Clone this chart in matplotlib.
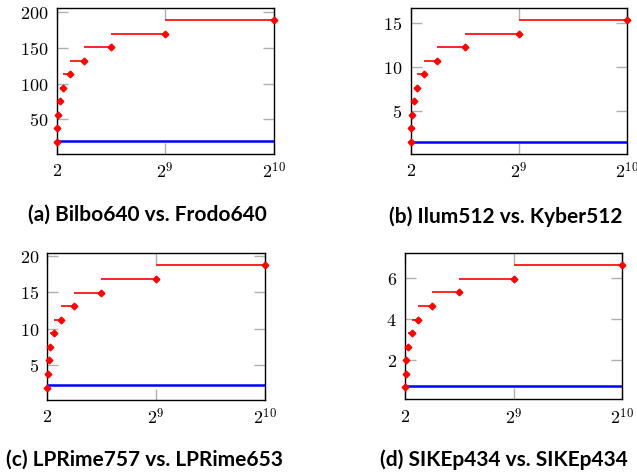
import matplotlib
import matplotlib.pyplot as plt

matplotlib.use("Agg")

plt.rcParams["mathtext.fontset"] = "cm"
plt.rcParams["axes.formatter.use_mathtext"] = True

# x values: 2^1 .. 2^10 (linear axis)
xs = [2, 4, 8, 16, 32, 64, 128, 256, 512, 1024]
x_ticks = [2, 512, 1024]
x_tick_labels = [r"$2$", r"$2^{9}$", r"$2^{10}$"]

titles = [
    "(a) Bilbo640 vs. Frodo640",
    "(b) Ilum512 vs. Kyber512",
    "(c) LPRime757 vs. LPRime653",
    "(d) SIKEp434 vs. SIKEp434",
]

red_a = [18.8, 37.7, 56.5, 75.4, 94.2, 113.1, 131.9, 150.8, 169.6, 188.5]
red_b = [1.53, 3.06, 4.59, 6.12, 7.65, 9.18, 10.71, 12.24, 13.77, 15.3]
red_c = [1.87, 3.74, 5.61, 7.48, 9.35, 11.22, 13.09, 14.96, 16.83, 18.7]
red_d = [0.66, 1.32, 1.98, 2.64, 3.30, 3.96, 4.62, 5.28, 5.94, 6.60]
red_series = [red_a, red_b, red_c, red_d]

blue_levels = [19.9, 1.56, 2.22, 0.71]

y_ticks = [
    [50, 100, 150, 200],
    [5, 10, 15],
    [5, 10, 15, 20],
    [2, 4, 6],
]

# axes boxes [left, bottom, width, height] in figure fractions
boxes = [
    [0.0895, 0.6765, 0.3405, 0.3065],
    [0.6450, 0.6765, 0.3390, 0.3065],
    [0.0743, 0.1600, 0.3417, 0.3080],
    [0.6360, 0.1610, 0.3410, 0.3070],
]
caption_pos = [(147, 215), (506, 217), (145, 460), (504, 460)]

fig = plt.figure(figsize=(6.37, 4.76), dpi=100)

for i in range(4):
    ax = fig.add_axes(boxes[i])
    ys = red_series[i]
    left_err = [x - x / 2 for x in xs]
    left_err[0] = 0
    ax.errorbar(xs, ys, xerr=[left_err, [0] * len(xs)], fmt="D", color="red",
                ecolor="red", elinewidth=1.2, markersize=3.4, capsize=0,
                zorder=4, clip_on=False)
    ax.axhline(blue_levels[i], color="blue", linewidth=1.8, zorder=3)

    lo = min(min(ys), blue_levels[i])
    hi = max(max(ys), blue_levels[i])
    pad = 0.1 * (hi - lo)
    ax.set_ylim(lo - pad, hi + pad)
    ax.set_xlim(2, 1024)

    ax.set_xticks(x_ticks)
    ax.set_xticklabels(x_tick_labels)
    ax.set_yticks(y_ticks[i])
    ax.set_yticklabels([rf"${v}$" for v in y_ticks[i]])
    ax.tick_params(direction="in", length=8, width=1.0, color="#b0b0b0",
                   top=True, right=True, labelsize=13, pad=6)
    for s in ax.spines.values():
        s.set_linewidth(1.0)
        s.set_color("black")

    cx, cy = caption_pos[i]
    fig.text(cx / 637, 1 - cy / 476, titles[i], ha="center", va="center",
             fontsize=15, fontweight="bold", family="Lato")

fig.savefig("out.png", dpi=100)
plt.close(fig)
